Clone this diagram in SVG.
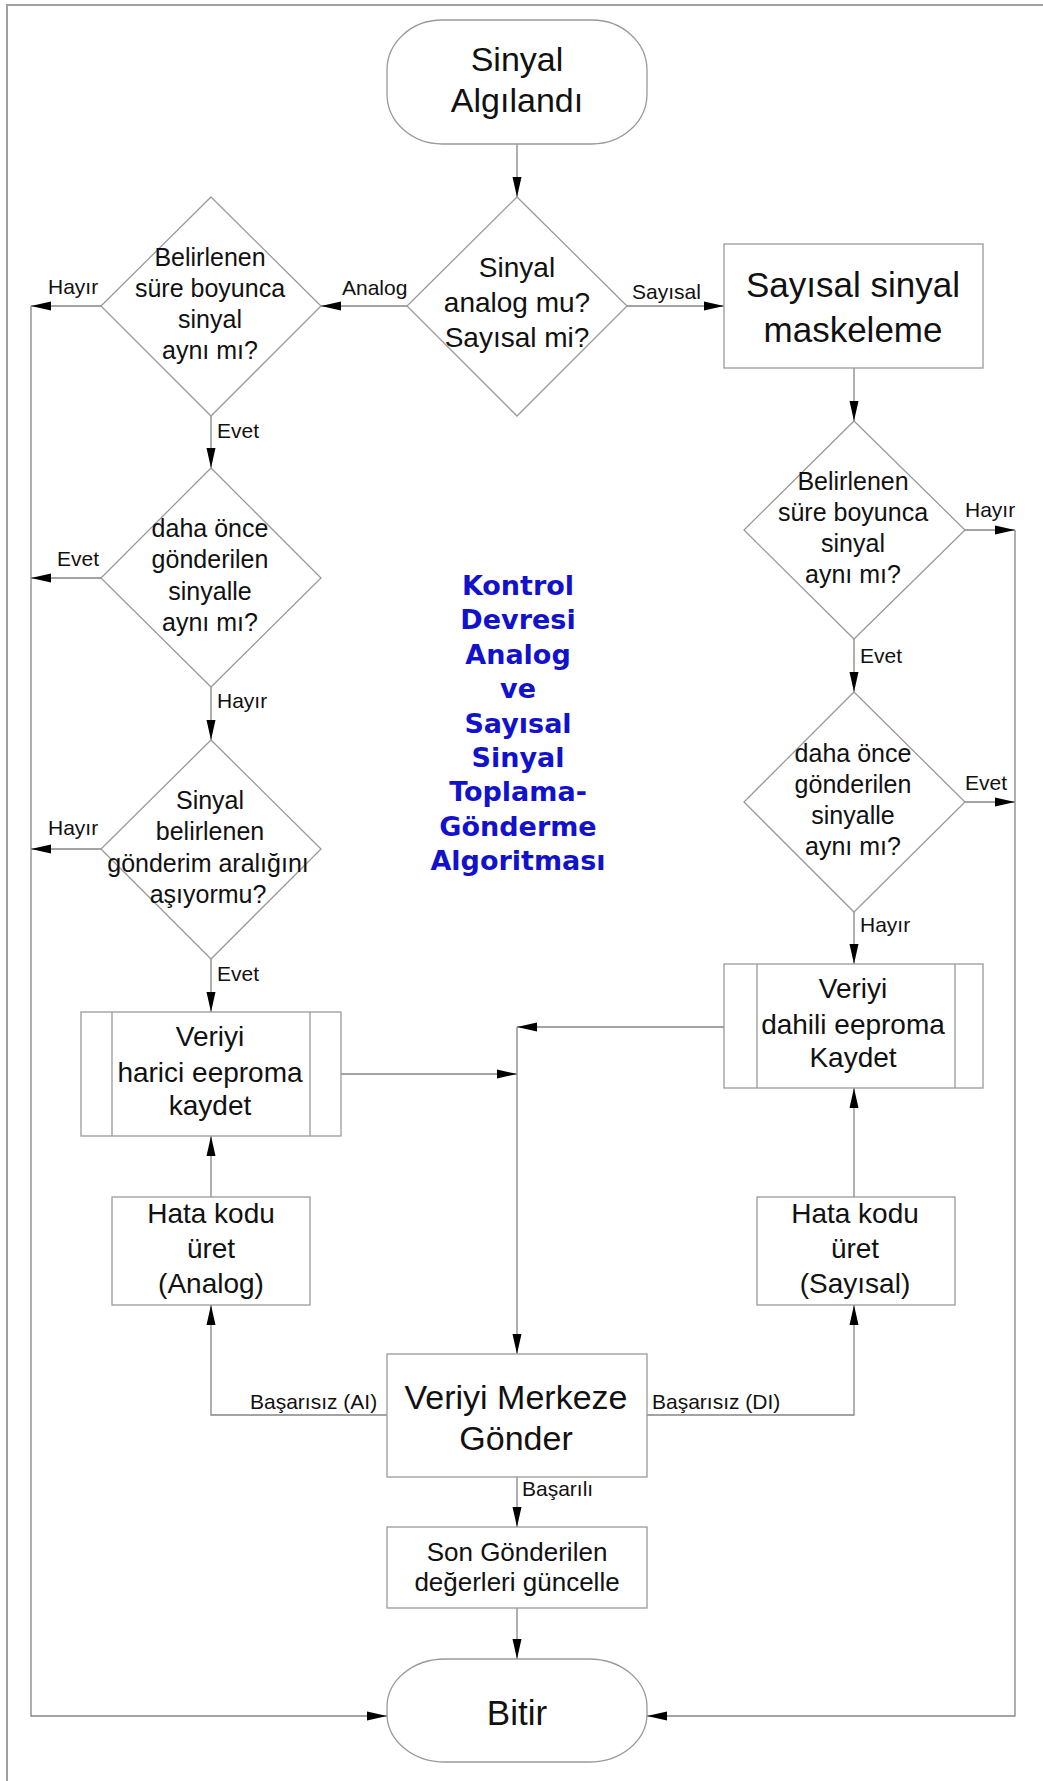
<svg xmlns="http://www.w3.org/2000/svg" width="1043" height="1781" viewBox="0 0 1043 1781">
  <style>
    .shape { fill: #ffffff; stroke: #9a9a9a; stroke-width: 1.3; }
    .inner { fill: none; stroke: #9a9a9a; stroke-width: 1.3; }
    .conn { fill: none; stroke: #858585; stroke-width: 1.3; }
    .frame { fill: none; stroke: #a0a0a0; stroke-width: 2; }
    .t { font-family: "Liberation Sans", Arial, sans-serif; fill: #111111; text-anchor: middle; }
    .lbl { font-family: "Liberation Sans", Arial, sans-serif; fill: #111111; font-size: 21px; }
    .title { font-family: "DejaVu Sans", sans-serif; font-weight: bold; fill: #1212cc; font-size: 27px; text-anchor: middle; }
  </style>
  <defs>
    <marker id="ah" markerUnits="userSpaceOnUse" markerWidth="20" markerHeight="10" refX="20" refY="5" orient="auto">
      <path d="M0,0.5 L20,5 L0,9.5 z" fill="#000000"/>
    </marker>
  </defs>

  <rect width="1043" height="1781" fill="#ffffff"/>
  <!-- page border -->
  <path class="frame" d="M7,1781 V5 H1043"/>

  <!-- connectors -->
  <g id="connectors">
    <line class="conn" x1="517" y1="144" x2="517" y2="197" marker-end="url(#ah)"/>
    <line class="conn" x1="407" y1="306" x2="321" y2="306" marker-end="url(#ah)"/>
    <line class="conn" x1="627" y1="306" x2="724" y2="306" marker-end="url(#ah)"/>

    <!-- left exit rail -->
    <line class="conn" x1="101" y1="306" x2="31" y2="306" marker-end="url(#ah)"/>
    <line class="conn" x1="101" y1="578" x2="31" y2="578" marker-end="url(#ah)"/>
    <line class="conn" x1="101" y1="849" x2="31" y2="849" marker-end="url(#ah)"/>
    <polyline class="conn" points="31,306 31,1716 387,1716" marker-end="url(#ah)"/>

    <!-- analog branch -->
    <line class="conn" x1="211" y1="416" x2="211" y2="468" marker-end="url(#ah)"/>
    <line class="conn" x1="211" y1="687" x2="211" y2="740" marker-end="url(#ah)"/>
    <line class="conn" x1="211" y1="959" x2="211" y2="1012" marker-end="url(#ah)"/>
    <line class="conn" x1="341" y1="1074" x2="517" y2="1074" marker-end="url(#ah)"/>
    <line class="conn" x1="211" y1="1197" x2="211" y2="1136" marker-end="url(#ah)"/>

    <!-- digital branch -->
    <line class="conn" x1="854" y1="368" x2="854" y2="421" marker-end="url(#ah)"/>
    <line class="conn" x1="965" y1="530" x2="1015" y2="530" marker-end="url(#ah)"/>
    <line class="conn" x1="854" y1="639" x2="854" y2="692" marker-end="url(#ah)"/>
    <line class="conn" x1="965" y1="802" x2="1015" y2="802" marker-end="url(#ah)"/>
    <line class="conn" x1="854" y1="912" x2="854" y2="964" marker-end="url(#ah)"/>
    <line class="conn" x1="854" y1="1197" x2="854" y2="1088" marker-end="url(#ah)"/>
    <polyline class="conn" points="1015,530 1015,1716 647,1716" marker-end="url(#ah)"/>

    <!-- merge into send -->
    <line class="conn" x1="724" y1="1027" x2="517" y2="1027" marker-end="url(#ah)"/>
    <line class="conn" x1="517" y1="1027" x2="517" y2="1354" marker-end="url(#ah)"/>
    <polyline class="conn" points="387,1415 211,1415 211,1305" marker-end="url(#ah)"/>
    <polyline class="conn" points="647,1415 854,1415 854,1305" marker-end="url(#ah)"/>
    <line class="conn" x1="517" y1="1477" x2="517" y2="1527" marker-end="url(#ah)"/>
    <line class="conn" x1="517" y1="1608" x2="517" y2="1659" marker-end="url(#ah)"/>
  </g>

  <!-- connector labels -->
  <g id="labels">
    <text class="lbl" x="342" y="295">Analog</text>
    <text class="lbl" x="632" y="299">Sayısal</text>
    <text class="lbl" x="48" y="294">Hayır</text>
    <text class="lbl" x="217" y="438">Evet</text>
    <text class="lbl" x="57" y="566">Evet</text>
    <text class="lbl" x="217" y="708">Hayır</text>
    <text class="lbl" x="48" y="835">Hayır</text>
    <text class="lbl" x="217" y="981">Evet</text>
    <text class="lbl" x="965" y="517">Hayır</text>
    <text class="lbl" x="860" y="663">Evet</text>
    <text class="lbl" x="965" y="790">Evet</text>
    <text class="lbl" x="860" y="932">Hayır</text>
    <text class="lbl" x="250" y="1409">Başarısız (AI)</text>
    <text class="lbl" x="652" y="1409">Başarısız (DI)</text>
    <text class="lbl" x="522" y="1496">Başarılı</text>
  </g>

  <!-- start -->
  <g id="start">
    <rect class="shape" x="387" y="20" width="260" height="124" rx="55" ry="50"/>
    <text class="t" font-size="34" x="517" y="71">Sinyal</text>
    <text class="t" font-size="34" x="517" y="112">Algılandı</text>
  </g>

  <!-- signal type decision -->
  <g id="type-decision">
    <polygon class="shape" points="517,197 627,306 517,416 407,306"/>
    <text class="t" font-size="28" x="517" y="277">Sinyal</text>
    <text class="t" font-size="28" x="517" y="312">analog mu?</text>
    <text class="t" font-size="28" x="517" y="347">Sayısal mi?</text>
  </g>

  <!-- analog side -->
  <g id="analog-stable">
    <polygon class="shape" points="211,197 321,306 211,416 101,306"/>
    <text class="t" font-size="25" x="210" y="266">Belirlenen</text>
    <text class="t" font-size="25" x="210" y="297">süre boyunca</text>
    <text class="t" font-size="25" x="210" y="328">sinyal</text>
    <text class="t" font-size="25" x="210" y="359">aynı mı?</text>
  </g>

  <g id="analog-same">
    <polygon class="shape" points="211,468 321,578 211,687 101,578"/>
    <text class="t" font-size="25" x="210" y="537">daha önce</text>
    <text class="t" font-size="25" x="210" y="568">gönderilen</text>
    <text class="t" font-size="25" x="210" y="600">sinyalle</text>
    <text class="t" font-size="25" x="210" y="631">aynı mı?</text>
  </g>

  <g id="analog-interval">
    <polygon class="shape" points="211,740 321,849 211,959 101,849"/>
    <text class="t" font-size="25" x="210" y="809">Sinyal</text>
    <text class="t" font-size="25" x="210" y="840">belirlenen</text>
    <text class="t" font-size="25" x="208" y="872">gönderim aralığını</text>
    <text class="t" font-size="25" x="208" y="903">aşıyormu?</text>
  </g>

  <g id="analog-save">
    <rect class="shape" x="81" y="1012" width="260" height="124"/>
    <line class="inner" x1="112" y1="1012" x2="112" y2="1136"/>
    <line class="inner" x1="310" y1="1012" x2="310" y2="1136"/>
    <text class="t" font-size="28" x="210" y="1046">Veriyi</text>
    <text class="t" font-size="28" x="210" y="1082">harici eeproma</text>
    <text class="t" font-size="28" x="210" y="1115">kaydet</text>
  </g>

  <g id="analog-error">
    <rect class="shape" x="112" y="1197" width="198" height="108"/>
    <text class="t" font-size="28" x="211" y="1223">Hata kodu</text>
    <text class="t" font-size="28" x="211" y="1258">üret</text>
    <text class="t" font-size="28" x="211" y="1293">(Analog)</text>
  </g>

  <!-- digital side -->
  <g id="digital-mask">
    <rect class="shape" x="724" y="244" width="259" height="124"/>
    <text class="t" font-size="35" x="853" y="297">Sayısal sinyal</text>
    <text class="t" font-size="35" x="853" y="342">maskeleme</text>
  </g>

  <g id="digital-stable">
    <polygon class="shape" points="854,421 965,530 854,639 744,530"/>
    <text class="t" font-size="25" x="853" y="490">Belirlenen</text>
    <text class="t" font-size="25" x="853" y="521">süre boyunca</text>
    <text class="t" font-size="25" x="853" y="552">sinyal</text>
    <text class="t" font-size="25" x="853" y="583">aynı mı?</text>
  </g>

  <g id="digital-same">
    <polygon class="shape" points="854,692 965,802 854,912 744,802"/>
    <text class="t" font-size="25" x="853" y="762">daha önce</text>
    <text class="t" font-size="25" x="853" y="793">gönderilen</text>
    <text class="t" font-size="25" x="853" y="824">sinyalle</text>
    <text class="t" font-size="25" x="853" y="855">aynı mı?</text>
  </g>

  <g id="digital-save">
    <rect class="shape" x="724" y="964" width="259" height="124"/>
    <line class="inner" x1="757" y1="964" x2="757" y2="1088"/>
    <line class="inner" x1="955" y1="964" x2="955" y2="1088"/>
    <text class="t" font-size="28" x="853" y="998">Veriyi</text>
    <text class="t" font-size="28" x="853" y="1034">dahili eeproma</text>
    <text class="t" font-size="28" x="853" y="1067">Kaydet</text>
  </g>

  <g id="digital-error">
    <rect class="shape" x="757" y="1197" width="198" height="108"/>
    <text class="t" font-size="28" x="855" y="1223">Hata kodu</text>
    <text class="t" font-size="28" x="855" y="1258">üret</text>
    <text class="t" font-size="28" x="855" y="1293">(Sayısal)</text>
  </g>

  <!-- send / update / end -->
  <g id="send">
    <rect class="shape" x="387" y="1354" width="260" height="123"/>
    <text class="t" font-size="34" x="516" y="1409">Veriyi Merkeze</text>
    <text class="t" font-size="34" x="516" y="1450">Gönder</text>
  </g>

  <g id="update">
    <rect class="shape" x="387" y="1527" width="260" height="81"/>
    <text class="t" font-size="26" x="517" y="1561">Son Gönderilen</text>
    <text class="t" font-size="26" x="517" y="1591">değerleri güncelle</text>
  </g>

  <g id="end">
    <rect class="shape" x="387" y="1659" width="260" height="103" rx="58" ry="48"/>
    <text class="t" font-size="35" x="517" y="1725">Bitir</text>
  </g>

  <!-- title block -->
  <g id="title">
    <text class="title" x="518" y="595">Kontrol</text>
    <text class="title" x="518" y="629">Devresi</text>
    <text class="title" x="518" y="664">Analog</text>
    <text class="title" x="518" y="698">ve</text>
    <text class="title" x="518" y="733">Sayısal</text>
    <text class="title" x="518" y="767">Sinyal</text>
    <text class="title" x="518" y="801">Toplama-</text>
    <text class="title" x="518" y="836">Gönderme</text>
    <text class="title" x="518" y="870">Algoritması</text>
  </g>
</svg>
